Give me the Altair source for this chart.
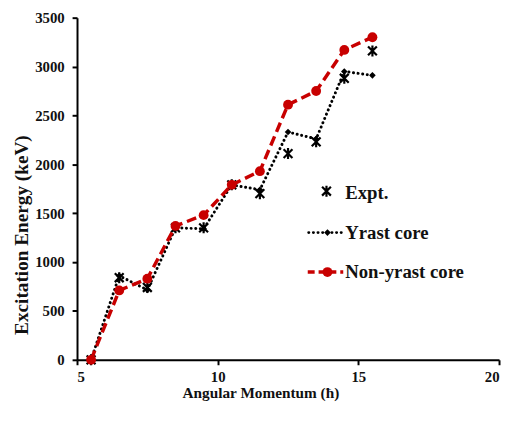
import altair as alt
import pandas as pd

# ---- data ----
J = [5.5, 6.5, 7.5, 8.5, 9.5, 10.5, 11.5, 12.5, 13.5, 14.5, 15.5]
expt = [0, 840, 740, 1350, 1350, 1790, 1700, 2110, 2230, 2880, 3160]
yrast = [0, 860, 715, 1350, 1340, 1790, 1740, 2330, 2260, 2950, 2910]
nonyrast = [0, 710, 830, 1370, 1480, 1790, 1930, 2610, 2750, 3170, 3300]
legend_labels = ["Expt.", "Yrast core", "Non-yrast core"]
x_ticks = [5, 10, 15, 20]
y_ticks = [0, 500, 1000, 1500, 2000, 2500, 3000, 3500]

RED = "#C80000"
FONT = "Liberation Serif"
STAR = "M-1,-1L1,1M-1,1L1,-1M0,-1.25L0,1.25"

W, H = 428, 347

df = pd.DataFrame({"J": J, "Expt": expt, "Yrast": yrast, "NonYrast": nonyrast})
leg = pd.DataFrame({"label": legend_labels})

xs = alt.Scale(domain=[5, 20], nice=False, zero=False)
ys = alt.Scale(domain=[0, 3500], nice=False)
X = alt.X("J:Q", scale=xs, axis=alt.Axis(values=x_ticks, format="d",
                                         title="Angular Momentum (ħ)",
                                         titleX=186, titleAnchor="start",
                                         titleAlign="center"))


def Y(field):
    return alt.Y(f"{field}:Q", scale=ys,
                 axis=alt.Axis(values=y_ticks, format="d",
                               title="Excitation Energy (keV)",
                               titleY=220, titleAlign="center"))


base = alt.Chart(df)

expt_pts = base.mark_point(shape=STAR, filled=False, strokeWidth=2.2, size=80,
                           color="black", opacity=1).encode(x=X, y=Y("Expt"))
yr_line = base.mark_line(color="black", strokeWidth=3, strokeDash=[0.1, 4.6],
                         strokeCap="round").encode(x=X, y=Y("Yrast"))
yr_pts = base.mark_point(shape="diamond", filled=True, size=45, color="black",
                         opacity=1).encode(x=X, y=Y("Yrast"))
ny_line = base.mark_line(color=RED, strokeWidth=3.5, strokeDash=[10, 5]).encode(
    x=X, y=Y("NonYrast"))
ny_pts = base.mark_point(shape="circle", filled=True, size=100, color=RED,
                         opacity=1).encode(x=X, y=Y("NonYrast"))

lb = alt.Chart(leg)


def item(i):
    return lb.transform_filter(alt.datum.label == legend_labels[i])


leg_text = [
    item(i).mark_text(font=FONT, fontWeight="bold", fontSize=19, align="left",
                      baseline="middle", color="#111").encode(
        x=alt.value(272), y=alt.value(yy), text="label:N")
    for i, yy in enumerate([178, 218, 258])
]
leg_star = item(0).mark_point(shape=STAR, filled=False, strokeWidth=2.2, size=80,
                              color="black", opacity=1).encode(
    x=alt.value(253), y=alt.value(176))
leg_yr_line = item(1).mark_rule(color="black", strokeWidth=3, strokeDash=[0.1, 4.6],
                                strokeCap="round").encode(
    x=alt.value(235), x2=alt.value(270), y=alt.value(218))
leg_yr_pt = item(1).mark_point(shape="diamond", filled=True, size=45, color="black",
                               opacity=1).encode(x=alt.value(254), y=alt.value(218))
leg_ny_line = item(2).mark_rule(color=RED, strokeWidth=3.5, strokeDash=[7, 4]).encode(
    x=alt.value(234), x2=alt.value(270), y=alt.value(258))
leg_ny_pt = item(2).mark_point(shape="circle", filled=True, size=100, color=RED,
                               opacity=1).encode(x=alt.value(254), y=alt.value(258))

chart = alt.layer(
    expt_pts, yr_line, yr_pts, ny_line, ny_pts,
    leg_star, leg_yr_line, leg_yr_pt, leg_ny_line, leg_ny_pt, *leg_text
).properties(
    width=W, height=H,
    autosize=alt.AutoSizeParams(type="none"),
    padding={"left": 70, "top": 7, "right": 2, "bottom": 42},
).configure_view(stroke=None).configure_axis(
    grid=False,
    domainColor="black", domainWidth=2,
    tickColor="black", tickWidth=2, tickSize=5,
    labelFont=FONT, labelFontWeight="bold", labelFontSize=15, labelColor="#111",
    titleFont=FONT, titleFontWeight="bold", titleColor="#111",
).configure_axisX(
    labelPadding=5, titleFontSize=15.5, titlePadding=1,
).configure_axisY(
    labelPadding=8, titleFontSize=19.5, titlePadding=3,
)

chart.save("out.html", embed_options={"renderer": "svg", "actions": False})
